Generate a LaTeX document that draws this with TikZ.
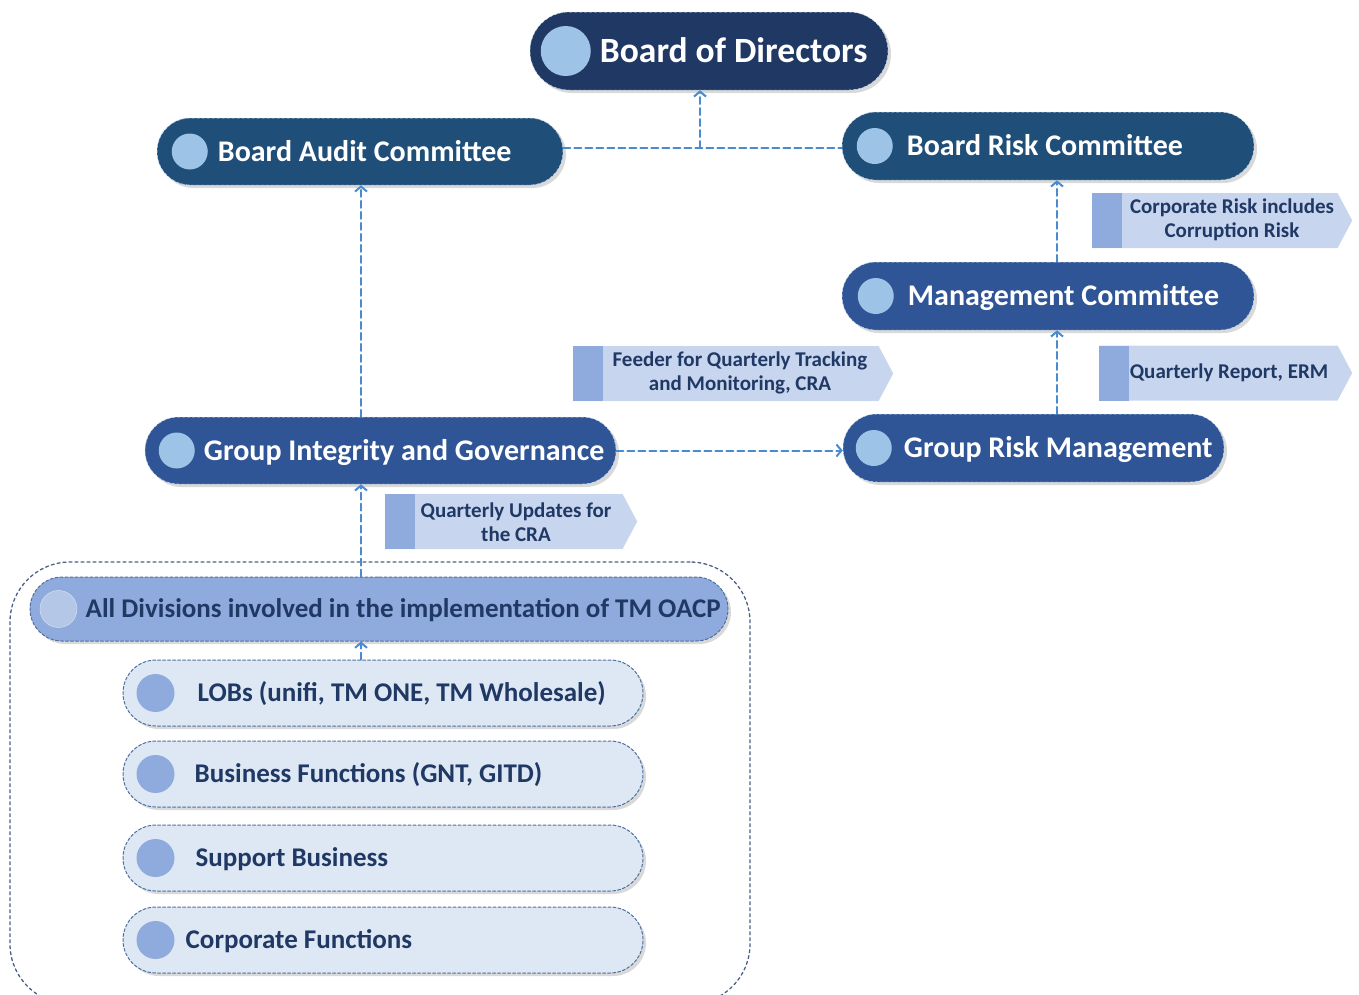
\documentclass[tikz,border=0pt]{standalone}
\usepackage{fontspec}
\setmainfont{Carlito}
\usepackage{tikz}
\usetikzlibrary{arrows.meta}
\usetikzlibrary{calc}
\usetikzlibrary{shapes.misc}
\usetikzlibrary{shapes.symbols}
\usetikzlibrary{shadows}

\definecolor{navy}{HTML}{203864}
\definecolor{steel}{HTML}{1F4E79}
\definecolor{royal}{HTML}{2F5597}
\definecolor{sky}{HTML}{9DC3E6}
\definecolor{lav}{HTML}{8FAADC}
\definecolor{ice}{HTML}{B4C7E7}
\definecolor{pale}{HTML}{DEE8F5}
\definecolor{tagbg}{HTML}{C7D5EE}
\definecolor{wire}{HTML}{4A8AD0}
\definecolor{rim}{HTML}{4F6F9F}

\begin{document}
\begin{tikzpicture}[x=1pt, y=-1pt, line cap=round, line join=round, >={Straight Barb[length=5pt,width=12pt,line width=2pt]},
  pill/.style={rounded rectangle, inner sep=0pt, drop shadow={shadow xshift=3pt, shadow yshift=-3pt, opacity=0.3}},
  dark/.style={pill, draw=sky!60!white, densely dashed, line width=0.5pt, minimum height=67},
  light/.style={pill, fill=pale, draw=rim, densely dashed, line width=1pt, minimum width=520, minimum height=66},
  dot/.style={circle, inner sep=0pt, minimum size=36, fill=sky},
  head/.style={anchor=west, inner sep=0pt, text height=19.4, text depth=0pt, text=white,
    font=\bfseries\fontsize{30}{36}\selectfont},
  sub/.style={head, text=navy, text height=17.4, font=\bfseries\fontsize{27}{32}\selectfont},
  tag/.style={signal, signal to=east, signal pointer angle=124, fill=tagbg, inner sep=0pt, minimum height=55, anchor=west},
  stripe/.style={rectangle, fill=lav, inner sep=0pt, minimum width=30, minimum height=55, anchor=west},
  note/.style={align=center, inner sep=0pt, text=navy, font=\bfseries\fontsize{21}{24}\selectfont},
  link/.style={draw=wire, line width=2pt, dash pattern=on 7pt off 4pt},
  frame/.style={rectangle, draw=navy!80, dashed, line width=1.3pt, rounded corners=60}]
  \useasboundingbox (0,0) rectangle (1359,994);
  %--- Frame
    \node[frame, minimum width=740, minimum height=442] (GRP) at (380,783) {};
  %--- Boxes
    \node[dark, fill=navy, minimum width=358, minimum height=78] (BD) at (709,51) {};
    \node[dot, minimum size=50] (BDc) at ([xshift=36]BD.west) {};
    \node[head, text height=22.8, font=\bfseries\fontsize{35.5}{40}\selectfont] (BDt) at ([xshift=70]BD.west) {Board of Directors};

    \node[dark, fill=steel, minimum width=406] (BA) at (360,151.5) {};
    \node[dot] (BAc) at ([xshift=33]BA.west) {};
    \node[head] (BAt) at ([xshift=61]BA.west) {Board Audit Committee};

    \node[dark, fill=steel, minimum width=412, minimum height=68] (BR) at (1048,146) {};
    \node[dot] (BRc) at ([xshift=33]BR.west) {};
    \node[head] (BRt) at ([xshift=65]BR.west) {Board Risk Committee};

    \node[dark, fill=royal, minimum width=412, minimum height=68] (MC) at (1048,296) {};
    \node[dot] (MCc) at ([xshift=34]MC.west) {};
    \node[head] (MCt) at ([xshift=66]MC.west) {Management Committee};

    \node[dark, fill=royal, minimum width=471] (GI) at (380.5,450.5) {};
    \node[dot] (GIc) at ([xshift=32]GI.west) {};
    \node[head] (GIt) at ([xshift=59]GI.west) {Group Integrity and Governance};

    \node[dark, fill=royal, minimum width=381, minimum height=68] (GR) at (1033.5,448) {};
    \node[dot] (GRc) at ([xshift=31]GR.west) {};
    \node[head] (GRt) at ([xshift=61]GR.west) {Group Risk Management};

    \node[pill, fill=lav, draw=rim, densely dashed, line width=1pt, minimum width=698, minimum height=64] (AD) at (379,609) {};
    \node[dot, fill=ice, draw=white!70!lav, solid, minimum size=37] (ADc) at ([xshift=29]AD.west) {};
    \node[sub] (ADt) at ([xshift=56]AD.west) {All Divisions involved in the implementation of TM OACP};

    \node[light] (LB) at (383,693) {};
    \node[dot, fill=lav, minimum size=38] (LBc) at ([xshift=33]LB.west) {};
    \node[sub] (LBt) at ([xshift=75]LB.west) {LOBs (unifi, TM ONE, TM Wholesale)};

    \node[light] (BF) at (383,774) {};
    \node[dot, fill=lav, minimum size=38] (BFc) at ([xshift=33]BF.west) {};
    \node[sub] (BFt) at ([xshift=72]BF.west) {Business Functions (GNT, GITD)};

    \node[light] (SB) at (383,858) {};
    \node[dot, fill=lav, minimum size=38] (SBc) at ([xshift=33]SB.west) {};
    \node[sub] (SBt) at ([xshift=73]SB.west) {Support Business};

    \node[light] (CF) at (383,940) {};
    \node[dot, fill=lav, minimum size=38] (CFc) at ([xshift=33]CF.west) {};
    \node[sub] (CFt) at ([xshift=63]CF.west) {Corporate Functions};
  %--- Tags
    \node[tag, minimum width=260] (T1) at (1092,220.5) {};
    \node[stripe] (T1s) at (T1.west) {};
    \node[note] (T1t) at (1232,220) {Corporate Risk includes\\Corruption Risk};

    \node[tag, minimum width=320] (T2) at (573,373.5) {};
    \node[stripe] (T2s) at (T2.west) {};
    \node[note] (T2t) at (740,373) {Feeder for Quarterly Tracking\\and Monitoring, CRA};

    \node[tag, minimum width=253] (T3) at (1099,373) {};
    \node[stripe] (T3s) at (T3.west) {};
    \node[note] (T3t) at (1229,373) {Quarterly Report, ERM};

    \node[tag, minimum width=252] (T4) at (385,521.5) {};
    \node[stripe] (T4s) at (T4.west) {};
    \node[note] (T4t) at (516,522) {Quarterly Updates for\\the CRA};
  %--- Arrows
    \coordinate (J) at (700,148);
    \coordinate (L) at (361,0);
    \coordinate (R) at (1057,0);
    \draw[link] (BA.east |- J) -- (J) -- (BR.west |- J);
    \draw[link,->] (J) -- (BD.south -| J);
    \draw[link,->] (GI.north -| L) -- (BA.south -| L);
    \draw[link,->] (GR.north -| R) -- (MC.south -| R);
    \draw[link,->] (MC.north -| R) -- (BR.south -| R);
    \draw[link,->] (GI.east) -- (GI.east -| GR.west);
    \draw[link,->] (AD.north -| L) -- (GI.south -| L);
    \draw[link,->] (LB.north -| L) -- (AD.south -| L);
  %---
\end{tikzpicture}
\end{document}
